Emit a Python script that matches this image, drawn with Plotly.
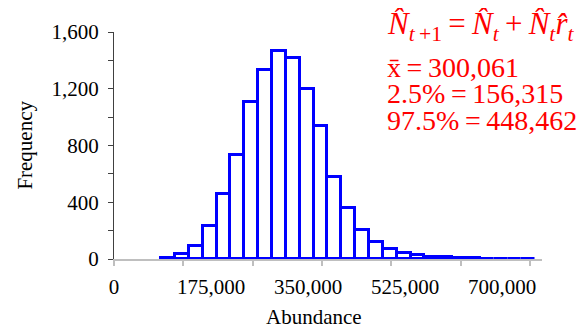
import plotly.graph_objects as go

# Histogram data (bin centres, width 25,000)
bin_centers = [97500, 122500, 147500, 172500, 197500, 222500, 247500, 272500, 297500,
               322500, 347500, 372500, 397500, 422500, 447500, 472500, 497500, 522500,
               547500, 572500, 597500, 622500, 647500, 672500, 697500, 722500, 747500]
frequency = [5, 33, 92, 232, 460, 735, 1105, 1330, 1465, 1417, 1200, 940, 580, 358,
             203, 118, 68, 45, 27, 16, 11, 8, 6, 3, 2, 1, 1]
bin_width = 25000

x_tick_vals = [0, 175000, 350000, 525000, 700000]
x_tick_text = ["0", "175,000", "350,000", "525,000", "700,000"]
y_tick_vals = [0, 400, 800, 1200, 1600]
y_tick_text = ["0", "400", "800", "1,200", "1,600"]

TS = "\u2009"  # thin space
stats_lines = ["x\u0304" + TS + "=" + TS + "300,061",
               "2.5%" + TS + "=" + TS + "156,315",
               "97.5%" + TS + "=" + TS + "448,462"]

FONT = "Liberation Serif, Times New Roman, serif"
RED = "#FF0000"

fig = go.Figure()
fig.add_trace(go.Bar(
    x=bin_centers, y=frequency, width=bin_width,
    marker=dict(color="white", line=dict(color="#0000FF", width=3)),
    cliponaxis=False, showlegend=False, hoverinfo="skip",
))
fig.add_trace(go.Scatter(x=[], y=[], xaxis="x2", showlegend=False))

x_range = [0, 772000]
# page body has an 8px margin: keep the figure inside the 587x330 window
fig.update_layout(
    width=579, height=322,
    margin=dict(l=106, r=45, t=21, b=71),
    paper_bgcolor="white", plot_bgcolor="white",
    bargap=0,
    font=dict(family=FONT, size=21, color="black"),
    xaxis=dict(range=x_range, tickmode="array", tickvals=x_tick_vals, ticktext=x_tick_text,
               ticks="", showline=True, linecolor="#BFBFBF", linewidth=1.5,
               showgrid=False, zeroline=False, ticklabelstandoff=8,
               tickfont=dict(family=FONT, size=21)),
    xaxis2=dict(range=x_range, overlaying="x", anchor="y", side="bottom",
                tickmode="linear", tick0=0, dtick=125000, ticks="outside", ticklen=6,
                tickcolor="#BFBFBF", tickwidth=1.5, showticklabels=False,
                showline=False, showgrid=False, zeroline=False),
    yaxis=dict(range=[0, 1600], tickmode="array", tickvals=y_tick_vals, ticktext=y_tick_text,
               ticks="outside", ticklen=5, tickcolor="#404040", tickwidth=1,
               showline=True, linecolor="#404040", linewidth=1,
               showgrid=False, zeroline=False, ticklabelstandoff=5,
               minor=dict(tickmode="linear", tick0=0, dtick=200, ticks="outside",
                          ticklen=5, tickcolor="#404040", showgrid=False),
               tickfont=dict(family=FONT, size=21)),
)

annotations = [
    dict(text="Frequency", xref="paper", yref="paper", x=-0.21, y=0.5,
         textangle=-90, showarrow=False, font=dict(family=FONT, size=21, color="black"),
         xanchor="center", yanchor="middle"),
    dict(text="Abundance", xref="paper", yref="paper", x=0.467, y=-0.255,
         showarrow=False, font=dict(family=FONT, size=21, color="black"),
         xanchor="center", yanchor="middle"),
    dict(text="<i>N\u0302</i><sub><i>t</i>" + TS + "+1</sub>" + TS + "=" + TS +
              "<i>N\u0302</i><sub><i>t</i></sub>" + TS + "+" + TS +
              "<i>N\u0302</i><sub><i>t</i></sub><i>r\u0302</i><sub><i>t</i></sub>",
         xref="paper", yref="paper", x=0.633, y=1.025, showarrow=False,
         font=dict(family=FONT, size=31, color=RED), xanchor="left", yanchor="middle"),
]
stat_y = [0.842, 0.727, 0.611]
for txt, yy in zip(stats_lines, stat_y):
    annotations.append(dict(text=txt, xref="paper", yref="paper", x=0.633, y=yy,
                            showarrow=False, font=dict(family=FONT, size=28, color=RED),
                            xanchor="left", yanchor="middle"))
fig.update_layout(annotations=annotations)

fig.write_html("out.html")
